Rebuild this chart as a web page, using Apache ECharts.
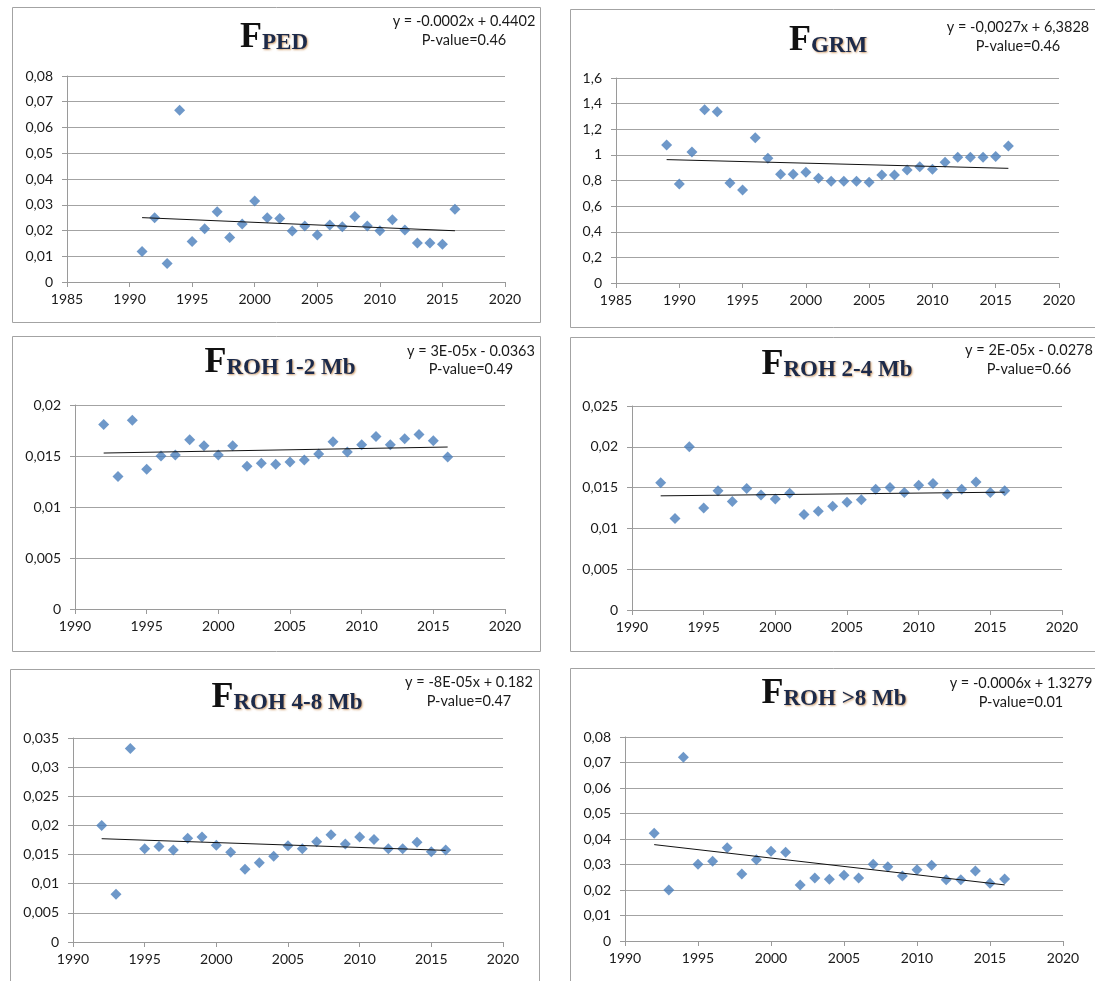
<!DOCTYPE html>
<html>
<head>
<meta charset="utf-8">
<script src="https://cdn.jsdelivr.net/npm/echarts@6/dist/echarts.min.js"></script>
<style>
html,body{margin:0;padding:0;background:#fff;}
#c{width:1095px;height:981px;}
</style>
</head>
<body>
<div id="c"></div>
<script>
// ---------- data ----------
const yearsPED = [1991,1992,1993,1994,1995,1996,1997,1998,1999,2000,2001,2002,2003,2004,2005,2006,2007,2008,2009,2010,2011,2012,2013,2014,2015,2016];
const valuesPED = [0.0118,0.0250,0.0072,0.0667,0.0157,0.0207,0.0273,0.0173,0.0225,0.0315,0.0250,0.0247,0.0198,0.0217,0.0183,0.0221,0.0215,0.0254,0.0217,0.0199,0.0242,0.0202,0.0151,0.0151,0.0147,0.0283];
const trendPED = [[1991,0.0250],[2016,0.0199]];

const yearsGRM = [1989,1990,1991,1992,1993,1994,1995,1996,1997,1998,1999,2000,2001,2002,2003,2004,2005,2006,2007,2008,2009,2010,2011,2012,2013,2014,2015,2016];
const valuesGRM = [1.078,0.773,1.023,1.352,1.336,0.780,0.726,1.133,0.974,0.848,0.848,0.864,0.817,0.794,0.794,0.794,0.786,0.843,0.843,0.882,0.908,0.887,0.942,0.981,0.981,0.981,0.987,1.070];
const trendGRM = [[1989,0.963],[2016,0.895]];

const yearsROH = [1992,1993,1994,1995,1996,1997,1998,1999,2000,2001,2002,2003,2004,2005,2006,2007,2008,2009,2010,2011,2012,2013,2014,2015,2016];
const valuesROH12 = [0.0181,0.0130,0.0185,0.0137,0.0150,0.0151,0.0166,0.0160,0.0151,0.0160,0.0140,0.0143,0.0142,0.0144,0.0146,0.0152,0.0164,0.0154,0.0161,0.0169,0.0161,0.0167,0.0171,0.0165,0.0149];
const trendROH12 = [[1992,0.01529],[2016,0.01588]];
const valuesROH24 = [0.0156,0.0112,0.0200,0.0125,0.0146,0.0133,0.0149,0.0141,0.0136,0.0143,0.0117,0.0121,0.0127,0.0132,0.0135,0.0148,0.0150,0.0144,0.0153,0.0155,0.0142,0.0148,0.0157,0.0144,0.0146];
const trendROH24 = [[1992,0.01399],[2016,0.01444]];
const valuesROH48 = [0.0200,0.0082,0.0332,0.0160,0.0164,0.0158,0.0178,0.0180,0.0166,0.0154,0.0125,0.0136,0.0147,0.0165,0.0160,0.0172,0.0184,0.0168,0.0180,0.0176,0.0160,0.0160,0.0171,0.0155,0.0158];
const trendROH48 = [[1992,0.01772],[2016,0.01572]];
const valuesROH8 = [0.0423,0.0200,0.0721,0.0301,0.0313,0.0366,0.0263,0.0319,0.0352,0.0348,0.0220,0.0247,0.0242,0.0258,0.0247,0.0301,0.0291,0.0255,0.0279,0.0297,0.0240,0.0240,0.0275,0.0226,0.0243];
const trendROH8 = [[1992,0.0378],[2016,0.0220]];

const titleSubs = ['PED','GRM','ROH 1-2 Mb','ROH 2-4 Mb','ROH 4-8 Mb','ROH >8 Mb'];
const equations = ['y = -0.0002x + 0.4402','y = -0,0027x + 6,3828','y = 3E-05x - 0.0363','y = 2E-05x - 0.0278','y = -8E-05x + 0.182','y = -0.0006x + 1.3279'];
const pValues = ['P-value=0.46','P-value=0.46','P-value=0.49','P-value=0.66','P-value=0.47','P-value=0.01'];
const xMins = [1985,1985,1990,1990,1990,1990];
const xMax = 2020, xInterval = 5;
const yMaxes = [0.08,1.6,0.02,0.025,0.035,0.08];
const yIntervals = [0.01,0.2,0.005,0.005,0.005,0.01];
const seriesYears = [yearsPED,yearsGRM,yearsROH,yearsROH,yearsROH,yearsROH];
const seriesValues = [valuesPED,valuesGRM,valuesROH12,valuesROH24,valuesROH48,valuesROH8];
const seriesTrends = [trendPED,trendGRM,trendROH12,trendROH24,trendROH48,trendROH8];

// ---------- layout ----------
const boxes = [[12,7,528,315],[570,9,530,318],[12,336,528,315],[570,337,530,314],[10,669,529,320],[570,668,530,320]];
const grids = [[67,76,438,206],[616,78,443,205],[75,405,430,204],[632,406,430,204],[73,738,430,204],[625,737,438,204]];
const titlePos = [[274,48.5],[828,52],[280,374],[837,376],[287,709],[834,705]]; // centre x, baseline of "F"
const eqPos = [[464,21,40],[1018,27,46],[471,351,369],[1029,350,369],[469,682,701],[1021,683,702]];

const labelFont = 'Lato, "Open Sans", sans-serif';
const serif = '"Liberation Serif", "DejaVu Serif", serif';
const fFont = 'bold 36px ' + serif;
const sFont = 'bold 23px ' + serif;
const fmtY = v => v === 0 ? '0' : String(parseFloat(v.toFixed(4))).replace('.', ',');
const fmtX = v => String(Math.round(v));

const mctx = document.createElement('canvas').getContext('2d');
function textW(t, font) { mctx.font = font; return mctx.measureText(t).width; }

const grid = [], xAxis = [], yAxis = [], series = [], graphic = [];
for (let i = 0; i < 6; i++) {
  const g = grids[i];
  grid.push({left: g[0], top: g[1], width: g[2], height: g[3], containLabel: false, outerBoundsMode: 'none'});
  xAxis.push({
    gridIndex: i, type: 'value', min: xMins[i], max: xMax, interval: xInterval,
    axisLine: {show: true, onZero: false, lineStyle: {color: '#9a9a9a', width: 1}},
    axisTick: {show: true, inside: false, length: 5, lineStyle: {color: '#9a9a9a'}},
    splitLine: {show: false},
    axisLabel: {color: '#1a1a1a', fontSize: 14, fontFamily: labelFont, margin: 10, formatter: fmtX}
  });
  yAxis.push({
    gridIndex: i, type: 'value', min: 0, max: yMaxes[i], interval: yIntervals[i],
    axisLine: {show: true, lineStyle: {color: '#9a9a9a', width: 1}},
    axisTick: {show: true, inside: false, length: 5, lineStyle: {color: '#9a9a9a'}},
    splitLine: {show: true, lineStyle: {color: '#a3a3a3', width: 1}},
    axisLabel: {color: '#1a1a1a', fontSize: 14, fontFamily: labelFont, margin: 14, formatter: fmtY}
  });
  series.push({
    type: 'scatter', xAxisIndex: i, yAxisIndex: i,
    data: seriesYears[i].map((y, k) => [y, seriesValues[i][k]]),
    symbol: 'diamond', symbolSize: 11,
    itemStyle: {color: '#4a7ebb'}, z: 2, silent: true
  });
  series.push({
    type: 'line', xAxisIndex: i, yAxisIndex: i, data: seriesTrends[i],
    symbol: 'none', lineStyle: {color: '#111', width: 1}, z: 3, silent: true
  });
  const b = boxes[i];
  graphic.push({
    type: 'rect', shape: {x: b[0] + 0.5, y: b[1] + 0.5, width: b[2], height: b[3]},
    style: {fill: 'none', stroke: '#a3a3a3', lineWidth: 1}, z: 0, silent: true
  });
  // title: big "F" + subscript
  const wF = textW('F', fFont), wS = textW(titleSubs[i], sFont);
  const left = titlePos[i][0] - (wF + wS) / 2;
  const base = titlePos[i][1];
  graphic.push({
    type: 'text', x: left, y: base - 0.305 * 36, silent: true,
    style: {text: 'F', align: 'left', verticalAlign: 'middle', font: fFont, fill: '#111'}
  });
  graphic.push({
    type: 'text', x: left + wF, y: base + 1.5 - 0.305 * 23, silent: true,
    style: {text: titleSubs[i], align: 'left', verticalAlign: 'middle', font: sFont, fill: '#1c2a4a',
            textShadowColor: 'rgba(190,120,50,0.7)', textShadowBlur: 2, textShadowOffsetX: 1, textShadowOffsetY: 1}
  });
  graphic.push({
    type: 'text', x: eqPos[i][0], y: eqPos[i][1], silent: true,
    style: {text: equations[i], align: 'center', verticalAlign: 'middle', font: '14.5px ' + labelFont, fill: '#1a1a1a'}
  });
  graphic.push({
    type: 'text', x: eqPos[i][0], y: eqPos[i][2], silent: true,
    style: {text: pValues[i], align: 'center', verticalAlign: 'middle', font: '14.5px ' + labelFont, fill: '#1a1a1a'}
  });
}

const chart = echarts.init(document.getElementById('c'), null, {renderer: 'canvas'});
chart.setOption({
  backgroundColor: '#ffffff',
  animation: false,
  grid, xAxis, yAxis, series, graphic
});
</script>
</body>
</html>
